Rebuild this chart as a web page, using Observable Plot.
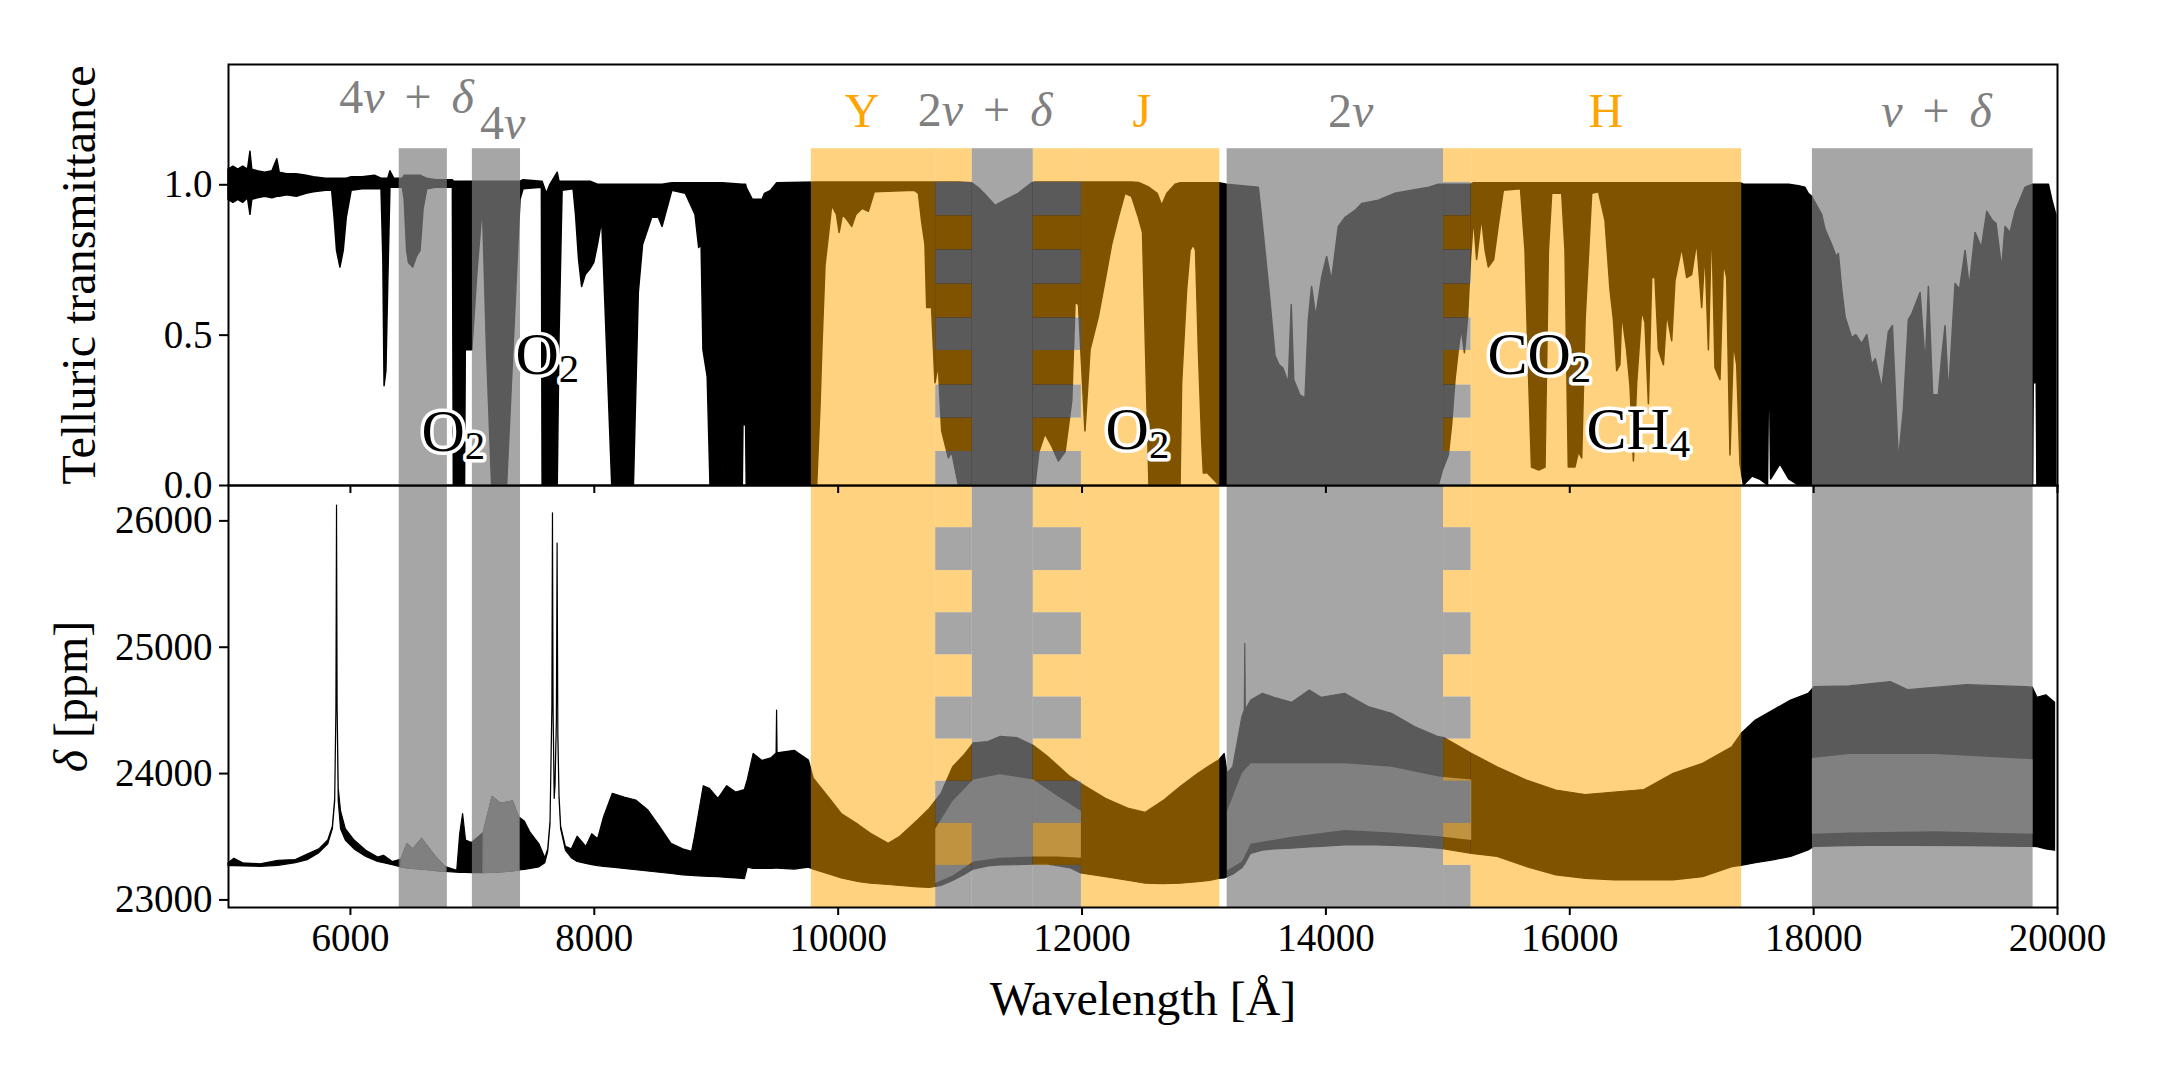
<!DOCTYPE html>
<html><head><meta charset="utf-8">
<script src="https://cdn.jsdelivr.net/npm/d3@7"></script>
<script src="https://cdn.jsdelivr.net/npm/@observablehq/plot@0.6"></script>
<style>
html,body{margin:0;padding:0;background:#fff;}
#chart{position:relative;width:2160px;height:1080px;overflow:hidden;background:#fff;}
#chart svg{position:absolute;left:0;}
#chart svg, #chart svg text, #chart svg tspan{font-family:'Liberation Serif','Times New Roman',serif !important;}
</style>
</head><body><div id="chart"></div>
<script>
// ---------- DATA ----------
const xTicks = [6000, 8000, 10000, 12000, 14000, 16000, 18000, 20000];
const yTicksTop = [0, 0.5, 1.0];
const yTicksBottom = [23000, 24000, 25000, 26000];

// wavelength ranges of the shaded bands
const greyBands = [[6400, 6795], [7000, 7395], [11100, 11600], [13190, 14965], [17990, 19800]];
const orangeBands = [[9780, 10800], [11995, 13130], [15190, 17410]];
const ladderBands = [[10800, 11100], [11600, 11995], [14965, 15190]];
const ladderEdgesTop = [0, 0.113, 0.224, 0.334, 0.449, 0.557, 0.670, 0.783, 0.897, 1.008];
const ladderEdgesBottom = [22940, 23273, 23606, 23939, 24273, 24606, 24940, 25273, 25607, 25946, 26280];
const bandTopT = 1.12;

// band labels
const bandLabels = ["4ν \u2006+\u2006 δ", "4ν", "Y", "2ν \u2006+\u2006 δ", "J", "2ν", "H", "ν \u2006+\u2006 δ"];
const bandLabelX = [6460, 7248, 10197, 11205, 12490, 14204, 16296, 19008];
const bandLabelY = [1.24, 1.153, 1.193, 1.196, 1.193, 1.193, 1.193, 1.193];
const bandLabelKind = ["grey", "grey", "orange", "grey", "orange", "grey", "orange", "grey"];

// molecule labels
const molLabels = ["O_2", "O_2", "O_2", "CO_2", "CH_4"];
const molX = [6583, 7354, 12193, 15325, 16137];
const molY = [0.116, 0.372, 0.12, 0.372, 0.123];

// telluric transmittance envelope: [wavelength, lower, upper]
const telluric = [
[5000,0.95,1.05],[5040,0.94,1.06],[5080,0.95,1.05],[5120,0.94,1.06],[5160,0.955,1.05],[5180,0.90,1.11],[5195,0.95,1.05],[5240,0.955,1.045],[5300,0.96,1.04],[5360,0.955,1.045],[5400,0.96,1.085],[5420,0.96,1.04],[5480,0.965,1.035],[5560,0.96,1.035],[5640,0.97,1.03],[5700,0.975,1.025],[5800,0.98,1.02],[5850,0.98,1.02],[5870,0.89,1.02],[5890,0.78,1.02],[5918,0.725,1.02],[5945,0.78,1.02],[5970,0.89,1.02],[6010,0.98,1.025],[6100,0.985,1.025],[6200,0.985,1.03],[6255,0.985,1.02],[6270,0.75,1.02],[6280,0.33,1.02],[6295,0.38,1.02],[6310,0.67,1.02],[6328,0.99,1.045],[6360,0.99,1.02],[6430,0.99,1.02],[6445,0.95,1.03],[6465,0.78,1.03],[6480,0.74,1.03],[6515,0.725,1.03],[6545,0.76,1.03],[6575,0.78,1.03],[6600,0.92,1.025],[6630,0.985,1.02],[6700,0.99,1.015],[6840,0.99,1.015],[6848,0,1.01],[6940,0,1.01],[6946,0.45,1.01],[7000,0.45,1.01],[7040,0.70,1.01],[7080,0.90,1.01],[7090,0.88,1.01],[7120,0.45,1.01],[7162,0,1.01],[7285,0,1.01],[7320,0.3,1.01],[7360,0.65,1.01],[7395,0.95,1.01],[7420,0.985,1.015],[7570,0.99,1.01],[7576,0,1.01],[7610,0,0.97],[7640,0,1.0],[7700,0,1.04],[7715,0.5,1.01],[7740,0.98,1.01],[7830,0.985,1.01],[7850,0.90,1.01],[7875,0.75,1.01],[7900,0.66,1.01],[7930,0.70,1.01],[7970,0.72,1.01],[8000,0.74,1.005],[8030,0.80,1.0],[8065,0.88,1.0],[8110,0.4,1.0],[8147,0,1.0],[8325,0,1.0],[8365,0.64,1.0],[8400,0.80,1.0],[8475,0.89,1.0],[8530,0.89,1.0],[8560,0.86,1.0],[8640,0.98,1.005],[8750,0.97,1.005],[8830,0.90,1.005],[8860,0.79,1.005],[8880,0.80,1.005],[8895,0.45,1.005],[8930,0.36,1.005],[8953,0,1.005],[9044,0,1.005],[9049,0.2,1.005],[9054,0,1.005],[9218,0,1.0],[9223,0.2,1.0],[9245,0.2,1.0],[9250,0,0.99],[9300,0,0.95],[9380,0,0.95],[9400,0,0.97],[9450,0,0.98],[9500,0,1.005],[9828,0,1.008],[9855,0.26,1.008],[9870,0.45,1.008],[9896,0.73,1.008],[9924,0.83,1.008],[9951,0.93,1.008],[9990,0.90,1.008],[10012,0.84,1.008],[10040,0.90,1.008],[10080,0.88,1.008],[10115,0.86,1.008],[10150,0.90,1.008],[10200,0.92,1.008],[10252,0.91,1.008],[10300,0.975,1.008],[10630,0.98,1.008],[10662,0.97,1.008],[10689,0.875,1.008],[10716,0.80,1.008],[10730,0.59,1.008],[10770,0.59,1.008],[10798,0.34,1.008],[10825,0.40,1.008],[10853,0.18,1.008],[10908,0.09,1.008],[10935,0.11,1.008],[10990,0,1.008],[11099,0,1.005],[11150,0,0.99],[11200,0,0.97],[11290,0,0.93],[11370,0,0.947],[11480,0,0.97],[11591,0,1.005],[11619,0,1.008],[11650,0.11,1.008],[11700,0.17,1.008],[11755,0.13,1.008],[11810,0.08,1.008],[11865,0.11,1.008],[11920,0.28,1.008],[11947,0.61,1.008],[11975,0.60,1.008],[12028,0.18,1.008],[12070,0.45,1.008],[12138,0.56,1.008],[12193,0.68,1.008],[12247,0.80,1.008],[12302,0.89,1.008],[12356,0.97,1.008],[12410,0.96,1.008],[12466,0.89,1.006],[12500,0.84,1.0],[12553,0,0.99],[12620,0,0.97],[12657,0,0.93],[12700,0,0.97],[12767,0,1.0],[12808,0,1.005],[12821,0.34,1.005],[12862,0.65,1.005],[12890,0.78,1.005],[12917,0.80,1.005],[12935,0.78,1.005],[12958,0.45,1.005],[12985,0.15,1.005],[12999,0.04,1.005],[13020,0.04,1.005],[13026,0.2,1.005],[13032,0.04,1.005],[13127,0,1.005],[13190,0,1.0],[13450,0,0.99],[13477,0,0.89],[13532,0,0.67],[13587,0,0.43],[13620,0,0.40],[13650,0,0.39],[13696,0,0.34],[13720,0,0.60],[13740,0,0.35],[13790,0,0.30],[13833,0,0.29],[13860,0,0.55],[13887,0,0.66],[13920,0,0.56],[13969,0,0.69],[14010,0,0.76],[14050,0,0.68],[14106,0,0.86],[14161,0,0.89],[14243,0,0.913],[14298,0,0.936],[14434,0,0.947],[14571,0,0.97],[14708,0,0.98],[14850,0,0.99],[14926,0,1.0],[14960,0.05,1.0],[15008,0.10,1.0],[15035,0.20,1.0],[15063,0.35,1.0],[15090,0.45,1.0],[15115,0.52,1.0],[15140,0.44,1.0],[15165,0.55,1.0],[15190,0.75,1.0],[15215,0.89,1.005],[15240,0.75,1.005],[15280,0.89,1.005],[15310,0.78,1.005],[15336,0.725,1.005],[15380,0.75,1.005],[15420,0.87,1.005],[15459,0.98,1.005],[15600,0.985,1.005],[15637,0.78,1.005],[15664,0.39,1.005],[15690,0.06,1.005],[15750,0.05,1.005],[15801,0.06,1.005],[15829,0.78,1.005],[15856,0.97,1.005],[15938,0.97,1.005],[15965,0.78,1.005],[15992,0.06,1.005],[16047,0.06,1.005],[16075,0.11,1.005],[16102,0.09,1.005],[16130,0.55,1.005],[16184,0.97,1.005],[16240,0.975,1.005],[16293,0.88,1.005],[16334,0.65,1.005],[16362,0.55,1.005],[16389,0.38,1.005],[16415,0.40,1.005],[16430,0.57,1.005],[16470,0.45,1.005],[16498,0.33,1.005],[16526,0.08,1.005],[16553,0.34,1.005],[16594,0.58,1.005],[16621,0.54,1.005],[16649,0.27,1.005],[16676,0.69,1.005],[16703,0.69,1.005],[16731,0.45,1.005],[16772,0.40,1.005],[16799,0.57,1.005],[16840,0.48,1.005],[16867,0.68,1.005],[16922,0.79,1.005],[16963,0.69,1.005],[17004,0.70,1.005],[17045,0.81,1.005],[17086,0.59,1.005],[17113,0.78,1.005],[17141,0.45,1.005],[17168,0.89,1.005],[17195,0.39,1.005],[17236,0.35,1.005],[17264,0.74,1.005],[17291,0.69,1.005],[17318,0.10,1.005],[17346,0.47,1.005],[17373,0.40,1.005],[17400,0.07,1.005],[17428,0,1.0],[17500,0.03,1.0],[17560,0.02,1.0],[17626,0,1.0],[17632,0.25,1.0],[17645,0.25,1.0],[17651,0.02,1.0],[17728,0.07,1.0],[17800,0.02,1.0],[17880,0,0.995],[17933,0,0.99],[17960,0,0.97],[17988,0,0.96],[18029,0,0.93],[18070,0,0.90],[18098,0,0.85],[18152,0,0.80],[18190,0,0.76],[18207,0,0.77],[18235,0,0.65],[18262,0,0.56],[18316,0,0.49],[18350,0,0.50],[18398,0,0.47],[18440,0,0.50],[18480,0,0.40],[18510,0,0.42],[18562,0,0.32],[18617,0,0.51],[18650,0,0.53],[18699,0,0.08],[18740,0,0.25],[18781,0,0.55],[18810,0,0.57],[18877,0,0.64],[18920,0,0.40],[18945,0,0.66],[18980,0,0.30],[19027,0,0.30],[19055,0,0.43],[19082,0,0.53],[19110,0,0.30],[19164,0,0.67],[19200,0,0.65],[19246,0,0.78],[19280,0,0.66],[19328,0,0.84],[19380,0,0.79],[19424,0,0.91],[19470,0,0.88],[19500,0,0.87],[19546,0,0.72],[19574,0,0.86],[19615,0,0.84],[19656,0,0.91],[19697,0,0.95],[19738,0,0.99],[19800,0,1.0],[19805,0.34,1.0],[19830,0.34,1.0],[19835,0,1.0],[19930,0,1.0],[19957,0,0.95],[19990,0,0.9]
];

// delta (ppm) envelope: [wavelength, lower, upper]
const deltaPpm = [
[5000,23268,23291],[5048,23268,23325],[5120,23265,23290],[5264,23262,23282],[5409,23270,23310],[5553,23290,23315],[5649,23315,23360],[5745,23370,23400],[5818,23440,23470],[5856,23560,23580],[5875,23780,23800],[5885,24500,24520],[5890,26100,26120],[5895,24500,24520],[5904,23780,23880],[5923,23560,23700],[5962,23470,23560],[6034,23400,23470],[6130,23340,23390],[6227,23300,23335],[6275,23290,23350],[6347,23275,23300],[6419,23258,23320],[6467,23250,23440],[6515,23245,23400],[6588,23240,23484],[6636,23235,23420],[6708,23228,23330],[6780,23222,23260],[6876,23215,23230],[6900,23214,23520],[6924,23213,23680],[6948,23213,23470],[6997,23212,23450],[7093,23212,23530],[7165,23214,23814],[7237,23218,23760],[7334,23225,23780],[7382,23233,23655],[7430,23238,23620],[7478,23245,23530],[7550,23258,23440],[7598,23290,23330],[7622,23380,23400],[7641,23600,23620],[7656,24500,24520],[7661,26040,26060],[7666,24500,24520],[7675,23800,23820],[7682,23900,23920],[7693,24400,24420],[7699,25800,25820],[7705,24300,24320],[7715,23800,23820],[7728,23560,23580],[7767,23390,23420],[7815,23330,23400],[7863,23300,23500],[7935,23285,23420],[7983,23275,23520],[8031,23268,23480],[8080,23262,23655],[8152,23255,23840],[8248,23245,23810],[8344,23235,23787],[8441,23225,23710],[8537,23215,23580],[8633,23205,23444],[8729,23195,23400],[8802,23190,23380],[8826,23188,23500],[8898,23185,23900],[8946,23183,23880],[9018,23180,23800],[9090,23175,23900],[9163,23170,23850],[9235,23165,23870],[9259,23255,23950],[9307,23245,24156],[9379,23245,24100],[9451,23245,24120],[9495,23248,24160],[9499,23248,24499],[9503,23248,24160],[9644,23240,24180],[9760,23255,24104],[9800,23240,23960],[9933,23200,23800],[10029,23170,23681],[10173,23140,23590],[10269,23128,23524],[10414,23118,23444],[10510,23110,23500],[10655,23100,23630],[10751,23095,23720],[10847,23110,23840],[10943,23150,24050],[11040,23200,24150],[11112,23240,24240],[11232,23265,24250],[11328,23273,24290],[11473,23275,24280],[11603,23280,24220],[11713,23282,24140],[11906,23250,23972],[11992,23210,23920],[12195,23180,23800],[12387,23150,23720],[12522,23128,23690],[12665,23125,23780],[12809,23128,23894],[12954,23140,23998],[13050,23150,24060],[13127,23167,24106],[13170,23170,24156],[13194,23180,24000],[13240,23200,24050],[13315,23250,24446],[13335,23280,24500],[13339,23280,25027],[13343,23290,24500],[13387,23365,24578],[13483,23390,24631],[13579,23400,24600],[13724,23405,24560],[13868,23415,24657],[13964,23420,24600],[14157,23431,24631],[14350,23433,24526],[14542,23428,24473],[14735,23420,24367],[14927,23405,24288],[14975,23400,24280],[15196,23365,24156],[15408,23340,24050],[15649,23260,23945],[15890,23194,23866],[16130,23167,23830],[16371,23154,23850],[16612,23154,23870],[16852,23154,23998],[17093,23180,24077],[17334,23260,24209],[17410,23270,24315],[17526,23290,24420],[17670,23313,24499],[17815,23340,24578],[17959,23392,24631],[18007,23420,24684],[18296,23425,24690],[18633,23430,24724],[18777,23428,24660],[19258,23425,24700],[19740,23420,24684],[19798,23420,24680],[19836,23418,24600],[19908,23400,24620],[19980,23390,24560]
];

// inner (grey) part of the delta envelope inside the wide grey bands
const deltaInnerLadder = [[10800,23130,23560],[10943,23190,23780],[11112,23300,23950],[11328,23330,23990],[11603,23340,23950],[11800,23340,23820],[11995,23330,23700]];
const deltaInner2nu = [[13194,23230,23700],[13315,23300,24000],[13387,23440,24077],[13724,23497,24077],[14157,23550,24077],[14542,23530,24050],[14927,23500,23972],[15196,23470,23950]];
const deltaInnerNuDelta = [[17990,23520,24120],[18296,23530,24150],[19000,23540,24150],[19800,23520,24110]];

// ---------- BUILD ----------
const FONT = "'Liberation Serif','Times New Roman',serif";
const GREY = "#808080", ORANGE = "#ffa500";
const rows = arr => arr.map(([w, lo, hi]) => ({w, lo, hi}));
const spans = (ranges, y1, y2) => ranges.map(([a, b]) => ({x1: a, x2: b, y1, y2}));
function ladder(ranges, edges) {
  const out = [];
  for (const [a, b] of ranges)
    for (let i = 0; i < edges.length - 1; i++)
      out.push({x1: a, x2: b, y1: edges[i], y2: edges[i + 1], kind: i % 2 === 0 ? "grey" : "orange"});
  return out;
}
const inBand = (w, k) => w >= greyBands[k][0] && w <= greyBands[k][1];

const tRows = rows(telluric);
const dRows = rows(deltaPpm);

const ladTop = ladder(ladderBands, ladderEdgesTop);
const ladBot = ladder(ladderBands, ladderEdgesBottom);
const orangeTop = spans(orangeBands, 0, bandTopT).concat(spans(ladderBands, ladderEdgesTop[ladderEdgesTop.length - 1], bandTopT), ladTop.filter(d => d.kind === "orange"));
const greyTop = spans(greyBands, 0, bandTopT).concat(ladTop.filter(d => d.kind === "grey"));
const yBot = [ladderEdgesBottom[0], ladderEdgesBottom[ladderEdgesBottom.length - 1]];
const orangeBot = spans(orangeBands, yBot[0], yBot[1]).concat(ladBot.filter(d => d.kind === "orange"));
const greyBot = spans(greyBands, yBot[0], yBot[1]).concat(ladBot.filter(d => d.kind === "grey"));

const bandLab = bandLabels.map((t, i) => ({t, x: bandLabelX[i], y: bandLabelY[i], c: bandLabelKind[i] === "grey" ? GREY : ORANGE}));
const molLab = molLabels.map((t, i) => ({t, x: molX[i], y: molY[i]}));

const W = 2160, ML = 228, MR = 103;

const topPlot = Plot.plot({
  width: W, height: 500, marginTop: 64, marginBottom: 15, marginLeft: ML, marginRight: MR,
  x: {domain: [5000, 20000]}, y: {domain: [0, 1.4]},
  style: {fontFamily: FONT, background: "transparent", overflow: "visible", color: "black"},
  marks: [
    Plot.areaY(tRows, {x: "w", y1: "lo", y2: "hi", fill: "black", stroke: "black", strokeWidth: 1.5}),
    Plot.rect(orangeTop, {x1: "x1", x2: "x2", y1: "y1", y2: "y2", fill: ORANGE, fillOpacity: 0.5}),
    Plot.rect(greyTop, {x1: "x1", x2: "x2", y1: "y1", y2: "y2", fill: GREY, fillOpacity: 0.7}),
    Plot.frame({stroke: "black", strokeWidth: 2}),
    Plot.axisY({ticks: yTicksTop, tickFormat: d3.format(".1f"), tickSize: 9, tickPadding: 7, fontSize: 39, label: null, strokeWidth: 2}),
    Plot.axisX({ticks: xTicks, tickSize: 8, tickFormat: () => "", label: null, strokeWidth: 2}),
    Plot.text(bandLab, {x: "x", y: "y", text: "t", fill: "c", fontSize: 48, textAnchor: "middle", lineAnchor: "bottom"}),
    Plot.text(molLab, {x: "x", y: "y", text: "t", fill: "black", stroke: "white", strokeWidth: 7, strokeLinejoin: "round", paintOrder: "stroke", fontSize: 60, textAnchor: "start", lineAnchor: "bottom"}),
    Plot.text(["Telluric transmittance"], {frameAnchor: "left", rotate: -90, dx: -134, fontSize: 48, textAnchor: "middle", lineAnchor: "bottom", fill: "black"})
  ]
});

const bottomPlot = Plot.plot({
  width: W, height: 605, marginTop: 10, marginBottom: 173, marginLeft: ML, marginRight: MR,
  x: {domain: [5000, 20000]}, y: {domain: yBot},
  style: {fontFamily: FONT, background: "transparent", overflow: "visible", color: "black"},
  marks: [
    Plot.areaY(dRows, {x: "w", y1: "lo", y2: "hi", fill: "black", stroke: "black", strokeWidth: 1.2}),
    Plot.areaY(dRows, {filter: d => inBand(d.w, 0) || inBand(d.w, 1), z: d => inBand(d.w, 0) ? 0 : 1, x: "w", y1: "lo", y2: "hi", fill: GREY, stroke: GREY, strokeWidth: 1}),
    Plot.areaY(rows(deltaInnerLadder), {x: "w", y1: "lo", y2: "hi", fill: GREY}),
    Plot.areaY(rows(deltaInner2nu), {x: "w", y1: "lo", y2: "hi", fill: GREY}),
    Plot.areaY(rows(deltaInnerNuDelta), {x: "w", y1: "lo", y2: "hi", fill: GREY}),
    Plot.rect(orangeBot, {x1: "x1", x2: "x2", y1: "y1", y2: "y2", fill: ORANGE, fillOpacity: 0.5}),
    Plot.rect(greyBot, {x1: "x1", x2: "x2", y1: "y1", y2: "y2", fill: GREY, fillOpacity: 0.7}),
    Plot.frame({stroke: "black", strokeWidth: 2}),
    Plot.axisY({ticks: yTicksBottom, tickFormat: d3.format("d"), tickSize: 9, tickPadding: 7, fontSize: 39, label: null, strokeWidth: 2}),
    Plot.axisX({ticks: xTicks, tickFormat: d3.format("d"), tickSize: 8, tickPadding: 8, fontSize: 39, label: null, strokeWidth: 2}),
    Plot.text(["δ [ppm]"], {frameAnchor: "left", rotate: -90, dx: -142, fontSize: 48, textAnchor: "middle", lineAnchor: "bottom", fill: "black"}),
    Plot.text(["Wavelength [Å]"], {frameAnchor: "bottom", dy: 107, fontSize: 48, textAnchor: "middle", lineAnchor: "bottom", fill: "black"})
  ]
});

const NS = "http://www.w3.org/2000/svg";
function richText(svg) {
  svg.querySelectorAll("text").forEach(t => {
    const s = t.textContent;
    if (!/[_νδ]/.test(s)) return;
    while (t.firstChild) t.removeChild(t.firstChild);
    let buf = "";
    const flush = () => { if (buf) { t.appendChild(document.createTextNode(buf)); buf = ""; } };
    for (let i = 0; i < s.length; i++) {
      const c = s[i];
      if (c === "_" && i + 1 < s.length) {
        flush();
        const ts = document.createElementNS(NS, "tspan");
        ts.setAttribute("font-size", "0.68em");
        ts.setAttribute("dy", "0.2em");
        ts.textContent = s[i + 1];
        t.appendChild(ts);
        i++;
      } else if (c === "ν" || c === "δ") {
        flush();
        const ts = document.createElementNS(NS, "tspan");
        ts.setAttribute("font-style", "italic");
        ts.textContent = c;
        t.appendChild(ts);
      } else buf += c;
    }
    flush();
  });
}
richText(topPlot); richText(bottomPlot);

const chart = document.getElementById("chart");
bottomPlot.style.top = "475px";
topPlot.style.top = "0px";
chart.appendChild(bottomPlot);
chart.appendChild(topPlot);
</script></body></html>
